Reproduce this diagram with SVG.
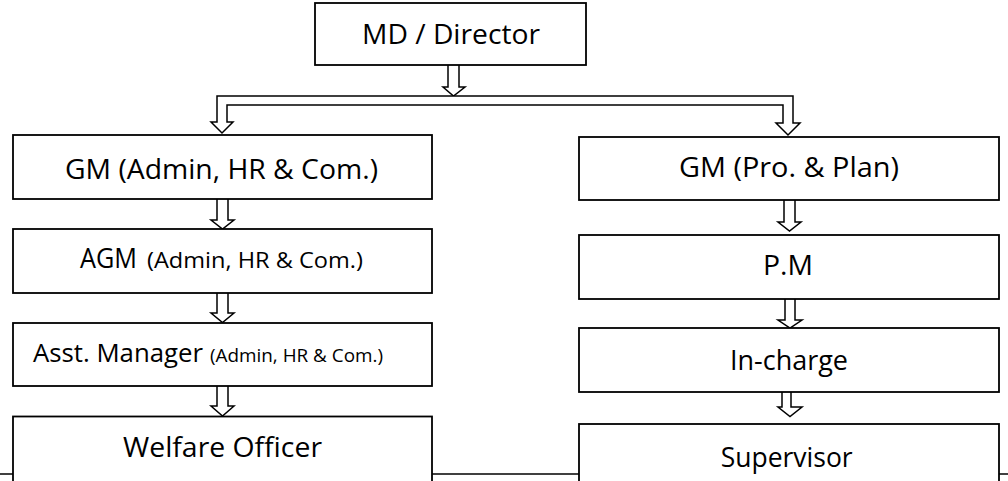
<svg xmlns="http://www.w3.org/2000/svg" width="1008" height="481" viewBox="0 0 1008 481">
<style>
  .box { fill: #fff; stroke: #000; stroke-width: 1.8; }
  .arr { fill: #fff; stroke: #000; stroke-width: 1.5; stroke-linejoin: miter; }
  .t { font-family: "Open Sans", "Noto Sans", sans-serif; font-size: 27px; fill: #000; text-anchor: middle; }
  .l { font-family: "Open Sans", "Noto Sans", sans-serif; fill: #000; }
</style>
<rect width="1008" height="481" fill="#fff"/>
<line x1="0" y1="474" x2="1008" y2="474" stroke="#000" stroke-width="1.6"/>

<g id="connectors">
  <path class="arr" d="M448,65 V87 H443 L453.5,96 L465,87 H459 V65"/>
  <path class="arr" d="M217,96 H793 V123 H800 L788,135 L776,123 H783 V105 H227 V122 H233 L222,133 L211,122 H217 Z"/>
  <path class="arr" d="M217,199 V220 H211 L222.5,229 L234,220 H228 V199"/>
  <path class="arr" d="M217,293 V313 H211 L222.5,322.5 L234,313 H228 V293"/>
  <path class="arr" d="M217,386 V406 H211 L222.5,416 L234,406 H228 V386"/>
  <path class="arr" d="M784,200 V222 H778 L789.5,231 L801,222 H795 V200"/>
  <path class="arr" d="M785,299 V320 H778 L790,328 L802,320 H795 V299"/>
  <path class="arr" d="M782,392 V407 H778 L790,416.5 L802,407 H791 V392"/>
</g>

<g id="md">
  <rect class="box" x="315" y="3" width="271" height="62"/>
  <text class="t" x="451" y="44" textLength="178" lengthAdjust="spacingAndGlyphs">MD / Director</text>
</g>
<g id="gm-admin">
  <rect class="box" x="13" y="135" width="419" height="64"/>
  <text class="t" x="221.5" y="179" textLength="313" lengthAdjust="spacingAndGlyphs">GM (Admin, HR &amp; Com.)</text>
</g>
<g id="agm-admin">
  <rect class="box" x="13" y="229" width="419" height="64"/>
  <text class="l" y="268"><tspan x="80" font-size="27" textLength="57" lengthAdjust="spacingAndGlyphs">AGM</tspan><tspan x="147" font-size="22.5" textLength="216" lengthAdjust="spacingAndGlyphs">(Admin, HR &amp; Com.)</tspan></text>
</g>
<g id="asst-manager">
  <rect class="box" x="13" y="323" width="419" height="63"/>
  <text class="l" y="361.5"><tspan x="33" font-size="25" textLength="170" lengthAdjust="spacingAndGlyphs">Asst. Manager</tspan><tspan x="210" font-size="18" textLength="173" lengthAdjust="spacingAndGlyphs">(Admin, HR &amp; Com.)</tspan></text>
</g>
<g id="welfare">
  <rect class="box" x="13" y="416.5" width="419" height="80"/>
  <text class="t" x="222.5" y="457" textLength="199" lengthAdjust="spacingAndGlyphs">Welfare Officer</text>
</g>
<g id="gm-pro">
  <rect class="box" x="579" y="137" width="420" height="63"/>
  <text class="t" x="789" y="177" textLength="220" lengthAdjust="spacingAndGlyphs">GM (Pro. &amp; Plan)</text>
</g>
<g id="pm">
  <rect class="box" x="579" y="235" width="420" height="64"/>
  <text class="t" x="788" y="275" textLength="50" lengthAdjust="spacingAndGlyphs">P.M</text>
</g>
<g id="incharge">
  <rect class="box" x="579" y="328" width="420" height="64"/>
  <text class="t" x="789" y="370" textLength="118" lengthAdjust="spacingAndGlyphs">In-charge</text>
</g>
<g id="supervisor">
  <rect class="box" x="579" y="424" width="420" height="70"/>
  <text class="t" x="786.7" y="466.7" textLength="132" lengthAdjust="spacingAndGlyphs">Supervisor</text>
</g>
</svg>
